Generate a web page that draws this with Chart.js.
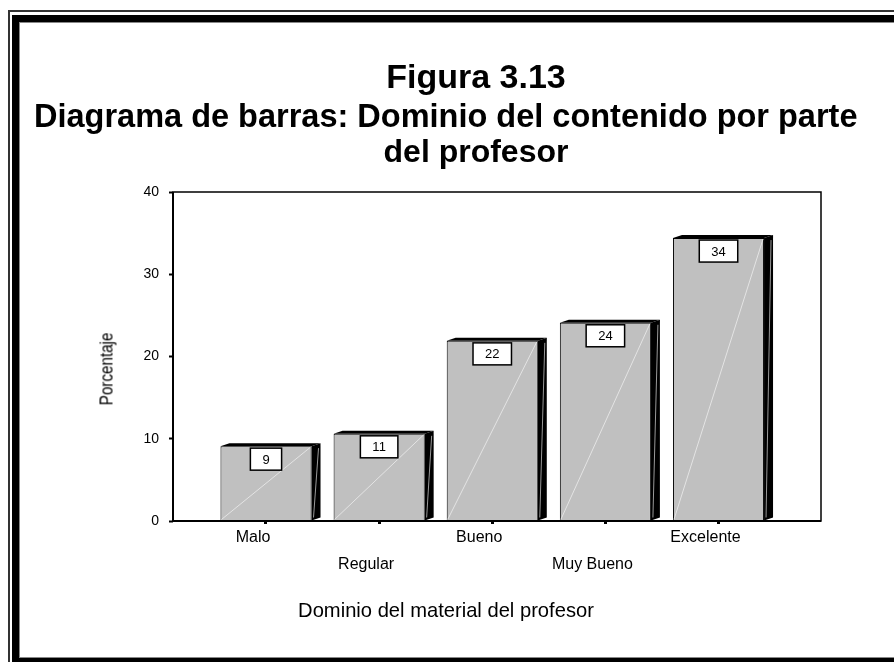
<!DOCTYPE html>
<html>
<head>
<meta charset="utf-8">
<script src="https://cdn.jsdelivr.net/npm/chart.js@4.4.1/dist/chart.umd.min.js"></script>
<style>
    html, body { margin: 0; padding: 0; background: #fff; }
    #wrap { position: relative; width: 894px; height: 662px; overflow: hidden; font-family: Arial, 'Liberation Sans', sans-serif; color: #000; }
    .frame-thin { position: absolute; left: 8px; top: 10px; width: 940px; height: 700px; border: 2px solid #333; }
    .frame-thick { position: absolute; left: 12px; top: 15px; width: 930px; height: 636px; border: 7px solid #000; box-shadow: inset 0 0 0 1px #888; }
    .txt { position: absolute; white-space: nowrap; line-height: 1; }
    .head { font-weight: bold; }
    #chart { position: absolute; left: 0; top: 0; }
</style>
</head>
<body>
<div id="wrap">
    <div class="frame-thin"></div>
    <div class="frame-thick"></div>
    <canvas id="chart" width="894" height="662"></canvas>

    <div class="txt head" style="left:0; width:952px; text-align:center; top:59px; font-size:34px;">Figura 3.13</div>
    <div class="txt head" style="left:34px; top:100px; font-size:32.5px;">Diagrama de barras: Dominio del contenido por parte</div>
    <div class="txt head" style="left:0; width:952px; text-align:center; top:135px; font-size:32px;">del profesor</div>

    <div class="txt" style="left:106px; top:369px; font-size:19px; transform: translate(-50%, -50%) rotate(-90deg) scaleX(0.8);">Porcentaje</div>
    <div class="txt" style="left:0; width:892px; text-align:center; top:599px; font-size:21px; transform: scaleX(0.96);">Dominio del material del profesor</div>
</div>

<script>
// datos
const categories = ['Malo', 'Regular', 'Bueno', 'Muy Bueno', 'Excelente'];
const percentages = [9.1, 10.6, 21.9, 24.1, 34.4];
const barLabels = ['9', '11', '22', '24', '34'];
const yTicks = [0, 10, 20, 30, 40];

// barras con efecto 3D + cajas con el valor
const bar3d = {
    id: 'bar3d',
    afterDatasetsDraw(chart) {
        const ctx = chart.ctx;
        const meta = chart.getDatasetMeta(0);
        const dx = 9, dy = 3;
        meta.data.forEach((bar, i) => {
            const p = bar.getProps(['x', 'y', 'base', 'width'], true);
            const l = p.x - p.width / 2, r = p.x + p.width / 2;
            ctx.save();
            // reflejo diagonal
            ctx.strokeStyle = '#e4e4e4';
            ctx.lineWidth = 1;
            ctx.beginPath();
            ctx.moveTo(l + 1, p.base - 1);
            ctx.lineTo(r - 1, p.y + 1);
            ctx.stroke();
            // cara superior y lateral
            ctx.fillStyle = '#000';
            ctx.beginPath();
            ctx.moveTo(l, p.y);
            ctx.lineTo(l + dx, p.y - dy);
            ctx.lineTo(r + dx, p.y - dy);
            ctx.lineTo(r, p.y);
            ctx.closePath();
            ctx.fill();
            ctx.beginPath();
            ctx.moveTo(r, p.y);
            ctx.lineTo(r + dx, p.y - dy);
            ctx.lineTo(r + dx, p.base - dy);
            ctx.lineTo(r, p.base);
            ctx.closePath();
            ctx.fill();
            ctx.strokeStyle = '#9a9a9a';
            ctx.beginPath();
            ctx.moveTo(r + 2, p.base - 3);
            ctx.lineTo(r + dx - 2, p.y + 2);
            ctx.stroke();
            // caja del valor
            ctx.font = '13px Arial, "Liberation Sans", sans-serif';
            const w = ctx.measureText(barLabels[i]).width + 24, h = 22;
            ctx.fillStyle = '#fff';
            ctx.fillRect(p.x - w / 2, p.y + 2, w, h);
            ctx.strokeStyle = '#000';
            ctx.lineWidth = 1.5;
            ctx.strokeRect(p.x - w / 2, p.y + 2, w, h);
            ctx.fillStyle = '#000';
            ctx.textAlign = 'center';
            ctx.textBaseline = 'middle';
            ctx.fillText(barLabels[i], p.x, p.y + 2 + h / 2 + 1);
            ctx.restore();
        });
    }
};

// marco del área de trazado
const plotBox = {
    id: 'plotBox',
    afterDraw(chart) {
        const { ctx, chartArea: a } = chart;
        ctx.save();
        ctx.strokeStyle = '#000';
        ctx.lineWidth = 1.5;
        ctx.strokeRect(a.left, a.top, a.right - a.left, a.bottom - a.top);
        ctx.lineWidth = 2;
        ctx.beginPath();
        ctx.moveTo(a.left, a.top);
        ctx.lineTo(a.left, a.bottom);
        ctx.lineTo(a.right, a.bottom);
        ctx.stroke();
        ctx.restore();
    }
};

new Chart(document.getElementById('chart'), {
    type: 'bar',
    data: {
        datasets: [{
            data: percentages.map((v, i) => ({ x: i, y: v })),
            backgroundColor: '#c0c0c0',
            borderColor: '#000',
            borderWidth: 1,
            barPercentage: 0.805,
            categoryPercentage: 1
        }]
    },
    options: {
        responsive: false,
        animation: false,
        layout: { padding: { top: 192, right: 73, left: 0, bottom: 0 } },
        plugins: { legend: { display: false }, tooltip: { enabled: false } },
        scales: {
            x: {
                type: 'linear',
                offset: false,
                min: -0.822,
                max: 4.906,
                afterBuildTicks: s => { s.ticks = categories.map((c, i) => ({ value: i })); },
                afterFit: s => { s.height = 141; },
                border: { display: false },
                grid: { offset: false, drawOnChartArea: false, tickLength: 3, tickWidth: 3, tickColor: '#000' },
                ticks: {
                    autoSkip: false,
                    maxRotation: 0,
                    padding: 0,
                    labelOffset: -13,
                    color: '#000',
                    font: { family: 'Arial, "Liberation Sans", sans-serif', size: 16, lineHeight: 1.6875 },
                    callback: v => (v % 2 ? ['', categories[v]] : categories[v])
                }
            },
            y: {
                min: yTicks[0],
                max: yTicks[yTicks.length - 1],
                afterBuildTicks: s => { s.ticks = yTicks.map(v => ({ value: v })); },
                afterFit: s => { s.width = 173; },
                border: { display: false },
                grid: { drawOnChartArea: false, tickLength: 4, tickWidth: 2, tickColor: '#000' },
                ticks: {
                    padding: 10,
                    color: '#000',
                    font: { family: 'Arial, "Liberation Sans", sans-serif', size: 14 }
                }
            }
        }
    },
    plugins: [bar3d, plotBox]
});
</script>
</body>
</html>
